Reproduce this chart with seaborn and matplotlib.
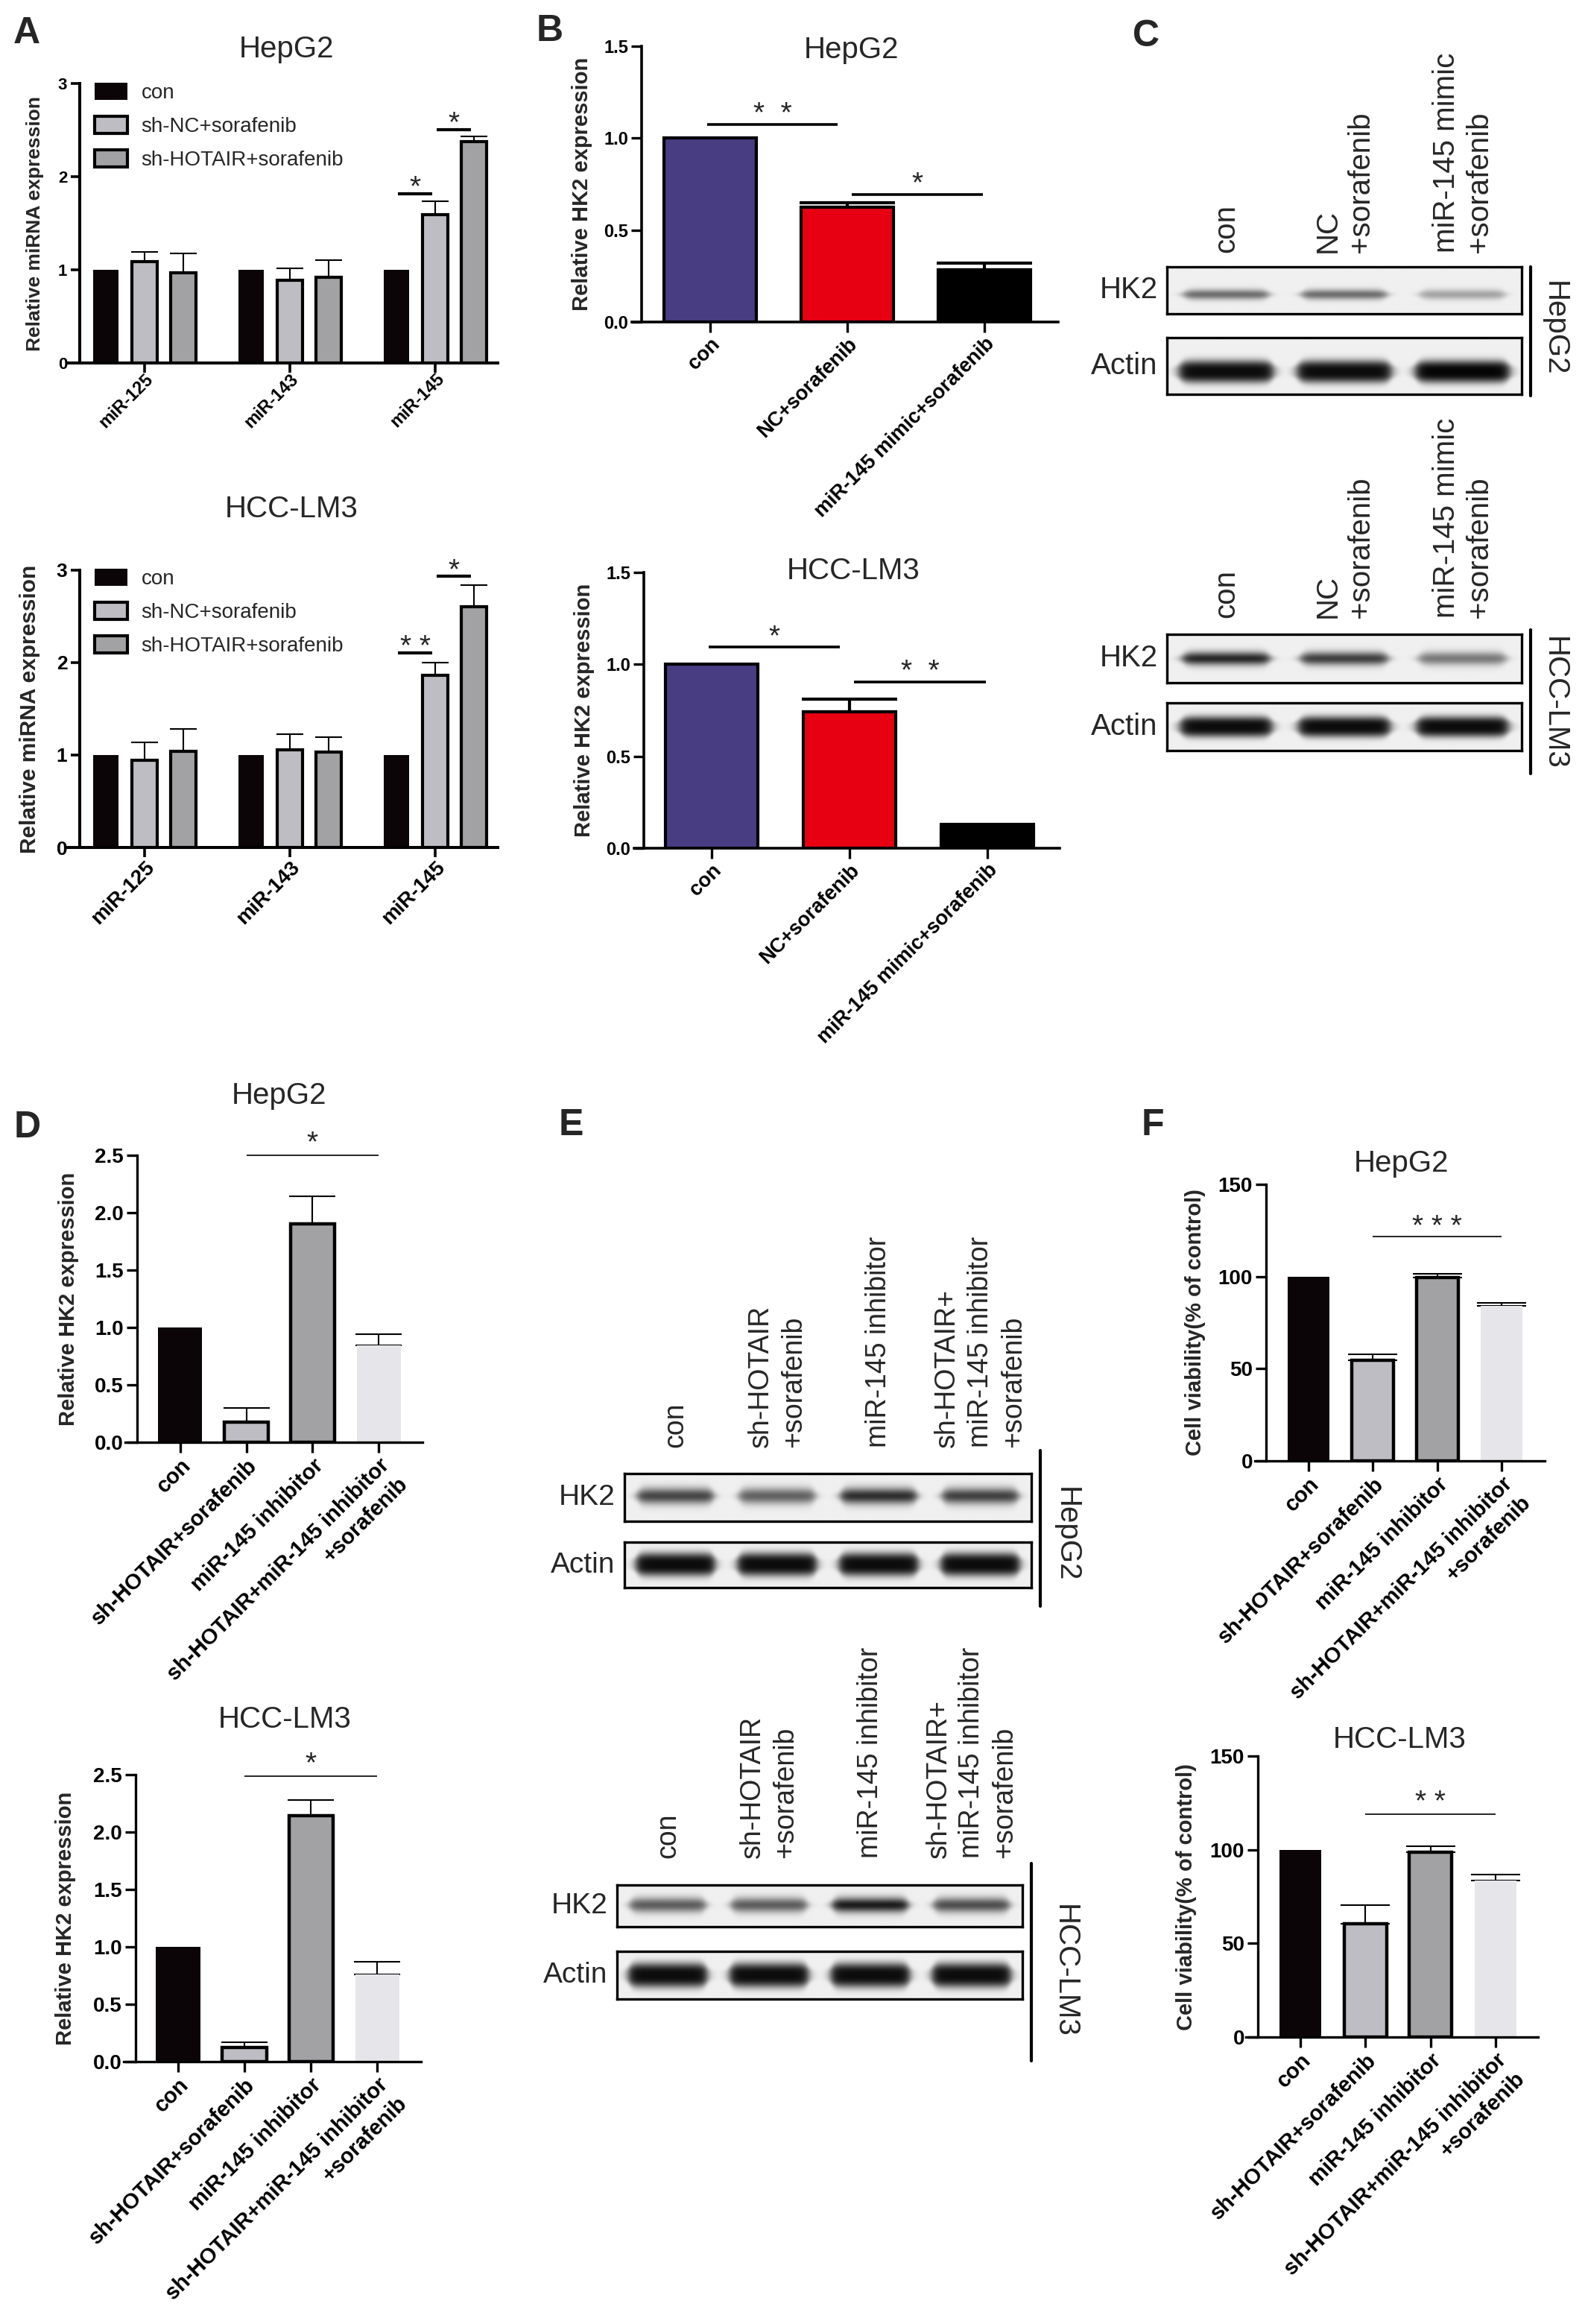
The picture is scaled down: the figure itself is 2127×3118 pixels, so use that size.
import numpy as np
import pandas as pd
import seaborn as sns
import matplotlib.pyplot as plt
from matplotlib.patches import Patch
from matplotlib.lines import Line2D

sns.set_theme(style="ticks")
plt.rcParams["font.family"] = ["Liberation Sans", "DejaVu Sans"]
plt.rcParams["axes.edgecolor"] = "black"

W, H = 2127, 3118

# ---------------- data ----------------
# A: relative miRNA expression
mirnas = ["miR-125", "miR-143", "miR-145"]
groups_a = ["con", "sh-NC+sorafenib", "sh-HOTAIR+sorafenib"]
colors_a = ["#0b0507", "#bebdc3", "#a2a2a4"]
a_hep_con = [1.0, 1.0, 1.0]
a_hep_nc = [1.09, 0.89, 1.595]
a_hep_sh = [0.97, 0.917, 2.373]
a_hep_nc_err = [0.10, 0.13, 0.14]
a_hep_sh_err = [0.21, 0.19, 0.06]
a_lm3_con = [1.0, 1.0, 1.0]
a_lm3_nc = [0.94, 1.057, 1.861]
a_lm3_sh = [1.04, 1.03, 2.602]
a_lm3_nc_err = [0.20, 0.17, 0.14]
a_lm3_sh_err = [0.24, 0.16, 0.24]
# (miRNA index, hue i, hue j, height, text)
a_hep_sig = [(2, 0, 1, 1.818, "*"), (2, 1, 2, 2.507, "*")]
a_lm3_sig = [(2, 0, 1, 2.106, "* *"), (2, 1, 2, 2.935, "*")]

# B: relative HK2 expression
groups_b = ["con", "NC+sorafenib", "miR-145 mimic+sorafenib"]
colors_b = ["#483c82", "#e60012", "#000000"]
b_hep = [1.0, 0.624, 0.285]
b_hep_err = [0.0, 0.023, 0.037]
b_lm3 = [1.0, 0.742, 0.112]
b_lm3_err = [0.0, 0.068, 0.018]
b_hep_sig = [(0, 1, 1.075, "*  *"), (1, 2, 0.695, "*")]
b_lm3_sig = [(0, 1, 1.094, "*"), (1, 2, 0.904, "*  *")]

# D / F
groups_d = ["con", "sh-HOTAIR+sorafenib", "miR-145 inhibitor",
            "sh-HOTAIR+miR-145 inhibitor\n+sorafenib"]
colors_d = ["#0b0507", "#bebdc3", "#a2a2a4", "#e6e6ea"]
edged_d = [False, True, True, False]
d_hep = [1.0, 0.178, 1.90, 0.847]
d_hep_err = [0.0, 0.12, 0.24, 0.095]
d_lm3 = [1.0, 0.124, 2.14, 0.757]
d_lm3_err = [0.0, 0.043, 0.14, 0.113]
d_hep_sig = [(1, 3, 2.5, "*")]
d_lm3_sig = [(1, 3, 2.49, "*")]
f_hep = [100, 54.5, 99.5, 84.1]
f_hep_err = [0, 3.2, 2.1, 1.7]
f_lm3 = [100, 60.6, 98.5, 83.4]
f_lm3_err = [0, 9.9, 3.5, 3.3]
f_hep_sig = [(1, 3, 121.5, "* * *")]
f_lm3_sig = [(1, 3, 118.9, "* *")]

# C / E western blots: band darkness per lane
c_lanes = ["con", "NC\n+sorafenib", "miR-145 mimic\n+sorafenib"]
c_hep_hk2 = [0.55, 0.55, 0.32]
c_hep_actin = [0.97, 0.97, 1.0]
c_lm3_hk2 = [0.85, 0.75, 0.5]
c_lm3_actin = [0.97, 0.97, 0.97]
e_lanes = ["con", "sh-HOTAIR\n+sorafenib", "miR-145 inhibitor",
           "sh-HOTAIR+\nmiR-145 inhibitor\n+sorafenib"]
e_hep_hk2 = [0.72, 0.6, 0.82, 0.74]
e_hep_actin = [0.97, 0.97, 0.97, 0.97]
e_lm3_hk2 = [0.62, 0.62, 0.9, 0.68]
e_lm3_actin = [0.97, 0.97, 0.97, 0.97]

fig = plt.figure(figsize=(W / 100, H / 100), dpi=100)


def add_ax(x0, x1, yt, yb):
    return fig.add_axes([x0 / W, 1 - yb / H, (x1 - x0) / W, (yb - yt) / H])


def ftext(x, y, s, **kw):
    fig.text(x / W, 1 - y / H, s, **kw)


def style_axis(ax, xlim, spine_x, ylim, yticks, yfmt, ytick_fs, spine_lw, tick_len, tick_w, xpad):
    ax.set_xlim(*xlim)
    ax.set_ylim(*ylim)
    sns.despine(ax=ax)
    ax.spines["left"].set_position(("data", spine_x))
    for s in ("left", "bottom"):
        ax.spines[s].set_linewidth(spine_lw)
        ax.spines[s].set_color("black")
    ax.set_yticks(yticks)
    ax.set_yticklabels([yfmt.format(t) for t in yticks], fontsize=ytick_fs, fontweight="bold")
    ax.tick_params(axis="both", direction="out", length=tick_len, width=tick_w,
                   color="black", labelcolor="black", pad=3)
    ax.tick_params(axis="x", pad=xpad)
    ax.set_xlabel("")
    ax.set_ylabel("")


def sig_line(ax, x1, x2, y, text, lw, fs, dy):
    ax.plot([x1, x2], [y, y], color="black", lw=lw, solid_capstyle="butt", clip_on=False)
    ax.annotate(text, xy=((x1 + x2) / 2, y), xytext=(0, dy), textcoords="offset points",
                ha="center", va="baseline", fontsize=fs, annotation_clip=False)


def add_err(ax, bars, errs, lw, cap):
    for p, e in zip(bars, errs):
        if e > 0:
            x = p.get_x() + p.get_width() / 2
            ax.errorbar([x], [p.get_height()], yerr=[[0], [e]], fmt="none", ecolor="black",
                        elinewidth=lw, capsize=cap, capthick=lw, zorder=0.8)


def grouped_panel(px, con, nc, sh, nc_err, sh_err, sigs, ytick_fs, xtick_fs, xpad, legend_xy):
    ax = add_ax(*px)
    df = pd.DataFrame({"miRNA": mirnas * 3, "group": np.repeat(groups_a, 3),
                       "value": con + nc + sh})
    sns.barplot(data=df, x="miRNA", y="value", hue="group", hue_order=groups_a,
                palette=colors_a, width=0.8, gap=0.35, saturation=1, errorbar=None,
                legend=False, ax=ax)
    for i, cont in enumerate(ax.containers):
        for p in cont:
            if i == 0:
                p.set_linewidth(0)
            else:
                p.set_edgecolor("black")
                p.set_linewidth(3)
    add_err(ax, ax.containers[1], nc_err, 1.5, 13)
    add_err(ax, ax.containers[2], sh_err, 1.5, 13)
    for g, i, j, y, t in sigs:
        pi = ax.containers[i][g]
        pj = ax.containers[j][g]
        x1 = pi.get_x() + pi.get_width() / 2
        x2 = pj.get_x() + pj.get_width() / 2
        sig_line(ax, x1 + 0.01, x2 - 0.02, y, t, 3, 28, -2)
    style_axis(ax, (-0.533, 2.43), -0.446, (0, 3), [0, 1, 2, 3], "{:d}", ytick_fs, 2.9, 9, 2.6, xpad)
    ax.set_xticks(range(3))
    ax.set_xticklabels(mirnas, rotation=45, ha="right", va="top", rotation_mode="anchor",
                       fontsize=xtick_fs, fontweight="bold")
    handles = [Patch(facecolor=colors_a[0], edgecolor=colors_a[0], linewidth=0),
               Patch(facecolor=colors_a[1], edgecolor="black", linewidth=3),
               Patch(facecolor=colors_a[2], edgecolor="black", linewidth=3)]
    ax.legend(handles, groups_a, loc="upper left",
              bbox_to_anchor=(legend_xy[0] / W, 1 - legend_xy[1] / H),
              bbox_transform=fig.transFigure, frameon=False, fontsize=20,
              handlelength=1.6, handleheight=0.9, handletextpad=0.65,
              labelspacing=0.65, borderpad=0, borderaxespad=0)
    return ax


def simple_panel(px, xlim, spine_x, ylim, yticks, yfmt, labels, values, errs, colors, edged,
                 width, edge_lw, err_lw, cap, sigs, sig_lw, sig_dy, shrink, ytick_fs, xtick_fs,
                 spine_lw, linesp=1.3):
    ax = add_ax(*px)
    df = pd.DataFrame({"group": labels, "value": values})
    sns.barplot(data=df, x="group", y="value", hue="group", order=labels, hue_order=labels,
                palette=colors, width=width, saturation=1, errorbar=None, legend=False, ax=ax)
    bars = sorted(ax.patches, key=lambda p: p.get_x())
    for p, e in zip(bars, edged):
        if e:
            p.set_edgecolor("black")
            p.set_linewidth(edge_lw)
        else:
            p.set_linewidth(0)
    add_err(ax, bars, errs, err_lw, cap)
    for k, (i, j, y, t) in enumerate(sigs):
        a, b = shrink[k % len(shrink)]
        sig_line(ax, i + a, j - b, y, t, sig_lw, 28, sig_dy)
    style_axis(ax, xlim, spine_x, ylim, yticks, yfmt, ytick_fs, spine_lw, 10, 2.4, 2)
    ax.set_xticks(range(len(labels)))
    ax.set_xticklabels(labels, rotation=45, ha="right", va="top", rotation_mode="anchor",
                       fontsize=xtick_fs, fontweight="bold", linespacing=linesp)
    return ax


def blot_strip(px, levels, band_w, band_y, band_s, flat):
    ax = add_ax(*px)
    n = len(levels)
    xs = np.linspace(-0.5, n - 0.5, 900)
    ys = np.linspace(0, 1, 160)
    X, Y = np.meshgrid(xs, ys)
    dark = np.zeros_like(X)
    for i, lv in enumerate(levels):
        fx = 1 / (1 + np.exp(-(X - i + band_w / 2) / 0.025)) / (1 + np.exp((X - i - band_w / 2) / 0.025))
        s = band_s * (0.4 + 0.6 * fx)
        dark = np.maximum(dark, lv * fx * np.exp(-np.abs((Y - band_y) / s) ** flat))
    img = 0.94 - 0.92 * dark
    ax.imshow(img, cmap="gray", vmin=0, vmax=1, extent=(-0.5, n - 0.5, 0, 1), origin="lower",
              aspect="auto", interpolation="bilinear")
    ax.set_xlim(-0.5, n - 0.5)
    ax.set_ylim(0, 1)
    ax.set_xticks([])
    ax.set_yticks([])
    for s in ax.spines.values():
        s.set_visible(True)
        s.set_linewidth(2.4)
        s.set_color("black")
    return ax


def row_label(ax, text, fs):
    ax.annotate(text, xy=(0, 0.5), xycoords="axes fraction", xytext=(-9, 0),
                textcoords="offset points", ha="right", va="center", fontsize=fs)


def lane_labels(ax, labels, fs, gap, linesp):
    for i, lab in enumerate(labels):
        ax.annotate(lab, xy=(i, 1), xycoords=("data", "axes fraction"), xytext=(0, gap),
                    textcoords="offset points", rotation=90, ha="center", va="bottom",
                    multialignment="left", fontsize=fs, linespacing=linesp,
                    annotation_clip=False)


def cell_bar(x, y0, y1, name, xn, yn):
    fig.add_artist(Line2D([x / W, x / W], [1 - y0 / H, 1 - y1 / H], color="black", lw=3))
    ftext(xn, yn, name, rotation=-90, ha="center", va="center", fontsize=29)


# ---------------- panel A ----------------
grouped_panel((90, 668, 112, 487), a_hep_con, a_hep_nc, a_hep_sh, a_hep_nc_err, a_hep_sh_err,
              a_hep_sig, 16, 17, -2, (127, 111))
ftext(385, 66, "HepG2", ha="center", va="center", fontsize=29)
ftext(47, 300, "Relative miRNA expression", rotation=90, ha="center", va="center",
      fontsize=19, fontweight="bold")
grouped_panel((90, 668, 765, 1137), a_lm3_con, a_lm3_nc, a_lm3_sh, a_lm3_nc_err, a_lm3_sh_err,
              a_lm3_sig, 19, 20, 1, (127, 763))
ftext(391, 683, "HCC-LM3", ha="center", va="center", fontsize=29)
ftext(40, 951, "Relative miRNA expression", rotation=90, ha="center", va="center",
      fontsize=21.5, fontweight="bold")

# ---------------- panel B ----------------
simple_panel((848, 1420, 62, 432), (-0.571, 2.538), -0.5, (0, 1.5), [0, 0.5, 1.0, 1.5], "{:.1f}",
             groups_b, b_hep, b_hep_err, colors_b, [True, True, True], 0.674, 3, 3, 46,
             b_hep_sig, 2.6, 2, [(-0.02, 0.07), (0.03, 0.01)], 17, 19.5, 2.6)
ftext(1143, 67, "HepG2", ha="center", va="center", fontsize=29)
ftext(781, 247, "Relative HK2 expression", rotation=90, ha="center", va="center",
      fontsize=21, fontweight="bold")
simple_panel((851, 1422, 768, 1138), (-0.562, 2.524), -0.49, (0, 1.5), [0, 0.5, 1.0, 1.5], "{:.1f}",
             groups_b, b_lm3, b_lm3_err, colors_b, [True, True, True], 0.674, 3, 3, 46,
             b_lm3_sig, 2.6, 2, [(-0.02, 0.07), (0.03, 0.01)], 17, 19.5, 2.6)
ftext(1145, 766, "HCC-LM3", ha="center", va="center", fontsize=29)
ftext(784, 953, "Relative HK2 expression", rotation=90, ha="center", va="center",
      fontsize=21, fontweight="bold")

# ---------------- panel C ----------------
ax = blot_strip((1566, 2042, 358, 421), c_hep_hk2, 0.72, 0.41, 0.11, 2)
row_label(ax, "HK2", 29)
lane_labels(ax, c_lanes, 29, 14, 1.2)
ax = blot_strip((1566, 2042, 453, 529), c_hep_actin, 0.8, 0.4, 0.2, 3)
row_label(ax, "Actin", 29)
cell_bar(2054, 358, 531, "HepG2", 2086, 441)
ax = blot_strip((1566, 2042, 851, 916), c_lm3_hk2, 0.74, 0.5, 0.14, 2)
row_label(ax, "HK2", 29)
lane_labels(ax, c_lanes, 29, 16, 1.2)
ax = blot_strip((1566, 2042, 943, 1007), c_lm3_actin, 0.78, 0.5, 0.22, 3)
row_label(ax, "Actin", 29)
cell_bar(2054, 845, 1038, "HCC-LM3", 2086, 943)

# ---------------- panel D ----------------
simple_panel((168, 567, 1550, 1935), (-0.834, 3.664), -0.654, (0, 2.5),
             [0, 0.5, 1.0, 1.5, 2.0, 2.5], "{:.1f}", groups_d, d_hep, d_hep_err, colors_d,
             edged_d, 0.665, 3.2, 1.5, 22, d_hep_sig, 1.2, 4, [(0, 0)], 20, 21, 2.4, 1.35)
ftext(374, 1470, "HepG2", ha="center", va="center", fontsize=29)
ftext(92, 1743, "Relative HK2 expression", rotation=90, ha="center", va="center",
      fontsize=21, fontweight="bold")
simple_panel((166, 565, 2381, 2766), (-0.82, 3.66), -0.64, (0, 2.5),
             [0, 0.5, 1.0, 1.5, 2.0, 2.5], "{:.1f}", groups_d, d_lm3, d_lm3_err, colors_d,
             edged_d, 0.665, 3.2, 1.5, 22, d_lm3_sig, 1.2, 4, [(0, 0)], 20, 21, 2.4, 1.35)
ftext(382, 2307, "HCC-LM3", ha="center", va="center", fontsize=29)
ftext(88, 2574, "Relative HK2 expression", rotation=90, ha="center", va="center",
      fontsize=21, fontweight="bold")

# ---------------- panel E ----------------
ax = blot_strip((838, 1384, 1977, 2041), e_hep_hk2, 0.75, 0.53, 0.17, 2)
row_label(ax, "HK2", 28)
lane_labels(ax, e_lanes, 27, 25, 1.3)
ax = blot_strip((838, 1384, 2069, 2130), e_hep_actin, 0.78, 0.51, 0.26, 3)
row_label(ax, "Actin", 28)
cell_bar(1396, 1946, 2155, "HepG2", 1431, 2059)
ax = blot_strip((828, 1372, 2529, 2585), e_lm3_hk2, 0.75, 0.52, 0.18, 2)
row_label(ax, "HK2", 28)
lane_labels(ax, e_lanes, 27, 26, 1.3)
ax = blot_strip((828, 1372, 2618, 2682), e_lm3_actin, 0.78, 0.5, 0.26, 3)
row_label(ax, "Actin", 28)
cell_bar(1384, 2500, 2765, "HCC-LM3", 1429, 2644)

# ---------------- panel F ----------------
simple_panel((1684, 2073, 1589, 1960), (-0.834, 3.67), -0.66, (0, 150), [0, 50, 100, 150], "{:d}",
             groups_d, f_hep, f_hep_err, colors_d, edged_d, 0.65, 3.2, 1.5, 24, f_hep_sig,
             1.2, 2, [(0, 0)], 20, 21, 2.4, 1.35)
ftext(1880, 1561, "HepG2", ha="center", va="center", fontsize=29)
ftext(1604, 1774, "Cell viability(% of control)", rotation=90, ha="center", va="center",
      fontsize=21, fontweight="bold")
simple_panel((1672, 2064, 2356, 2733), (-0.836, 3.654), -0.653, (0, 150), [0, 50, 100, 150], "{:d}",
             groups_d, f_lm3, f_lm3_err, colors_d, edged_d, 0.65, 3.2, 1.5, 24, f_lm3_sig,
             1.2, 3.5, [(0, 0)], 20, 21, 2.4, 1.35)
ftext(1878, 2334, "HCC-LM3", ha="center", va="center", fontsize=29)
ftext(1592, 2545, "Cell viability(% of control)", rotation=90, ha="center", va="center",
      fontsize=21, fontweight="bold")

# panel letters
for letter, x, y in [("A", 36, 45), ("B", 738, 42), ("C", 1538, 49),
                     ("D", 37, 1513), ("E", 766, 1510), ("F", 1547, 1510)]:
    ftext(x, y, letter, ha="center", va="center", fontsize=36, fontweight="bold")

fig.savefig("out.png", dpi=100, facecolor="white")
